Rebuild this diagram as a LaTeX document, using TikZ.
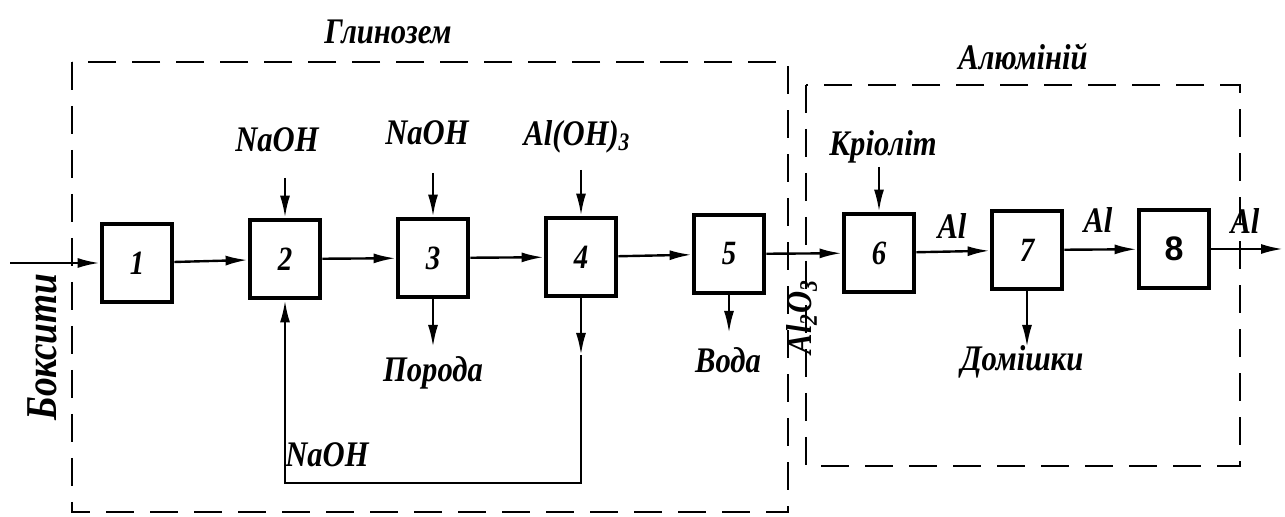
\documentclass[tikz,border=0pt]{standalone}
\usepackage{fontspec}
\setmainfont{Liberation Serif}[FakeStretch=0.85]
\newfontfamily\numfont{Liberation Sans}
\usetikzlibrary{arrows.meta}
\tikzset{
  proc/.style={draw, line width=2.4pt, minimum width=35pt, minimum height=39pt, inner sep=0pt,
    font=\fontsize{17}{17}\selectfont\bfseries\itshape},
  flow/.style={line width=1.2pt, -{Latex[length=11pt,width=5pt]}},
  lab/.style={font=\fontsize{18}{18}\selectfont\bfseries\itshape, inner sep=0pt},
  biglab/.style={font=\fontsize{22}{22}\selectfont\bfseries\itshape, inner sep=0pt},
  zone/.style={line width=1.1pt, dash pattern=on 14pt off 8pt},
}
\begin{document}
\begin{tikzpicture}[x=0.5pt,y=-0.5pt]
\useasboundingbox (0,0) rectangle (1285,517);
\fill[white] (0,0) rectangle (1285,517);

% zones
\draw[zone] (72,62) rectangle (788,512);
\draw[zone] (806,85) rectangle (1240,466);
\node[lab] (tGl) at (388,32) {Глинозем};
\node[lab] (tAl) at (1023,57) {Алюміній};

% process boxes
\node[proc] (n1) at (137,263) {1};
\node[proc] (n2) at (285,259) {2};
\node[proc] (n3) at (433,258) {3};
\node[proc] (n4) at (581,257) {4};
\node[proc] (n5) at (729,254) {5};
\node[proc] (n6) at (879,253) {6};
\node[proc] (n7) at (1027,250) {7};
\node[proc] (n8) at (1174,249) {\numfont\upshape 8};

% main flow
\coordinate (src) at (10,263);
\coordinate (out) at (1283,249);
\draw[flow] (src) -- (n1);
\draw[flow] (n1) -- (n2);
\draw[flow] (n2) -- (n3);
\draw[flow] (n3) -- (n4);
\draw[flow] (n4) -- (n5);
\draw[flow] (n5) -- (n6);
\draw[flow] (n6) -- (n7);
\draw[flow] (n7) -- (n8);
\draw[flow] (n8) -- (out);

% inputs from above
\node[lab] (naoh2) at (277,140) {NaOH};
\node[lab] (naoh3) at (427,133) {NaOH};
\node[lab] (aloh) at (577,137) {Al(OH)\textsubscript{3}};
\node[lab] (kri) at (883,147) {Кріоліт};
\coordinate (t2) at (285,178);
\coordinate (t3) at (433,173);
\coordinate (t4) at (581,170);
\coordinate (t6) at (879,167);
\draw[flow] (t2) -- (n2.north);
\draw[flow] (t3) -- (n3.north);
\draw[flow] (t4) -- (n4.north);
\draw[flow] (t6) -- (n6.north);

% outputs below
\coordinate (p3) at (433,347);
\coordinate (p5) at (729,333);
\coordinate (p7) at (1027,347);
\draw[flow] (n3.south) -- (p3);
\draw[flow] (n5.south) -- (p5);
\draw[flow] (n7.south) -- (p7);
\node[lab] (por) at (433,373) {Порода};
\node[lab] (voda) at (728,360) {Вода};
\node[lab] (dom) at (1022,362) {Домішки};

% recycle loop
\coordinate (m4) at (581,355);
\coordinate (fb4) at (581,483);
\coordinate (fb2) at (285,483);
\draw[flow] (n4.south) -- (m4);
\draw[flow] (m4) -- (fb4) -- (fb2) -- (n2.south);
\node[lab] (naohfb) at (327,455) {NaOH};

% product labels
\node[lab] (al1) at (952,226) {Al};
\node[lab] (al2) at (1098,220) {Al};
\node[lab] (al3) at (1245,221) {Al};
\node[biglab, rotate=90] (boks) at (42,347) {Боксити};
\node[lab, rotate=90] (al2o3) at (802,317) {Al\textsubscript{2}O\textsubscript{3}};
\end{tikzpicture}
\end{document}
